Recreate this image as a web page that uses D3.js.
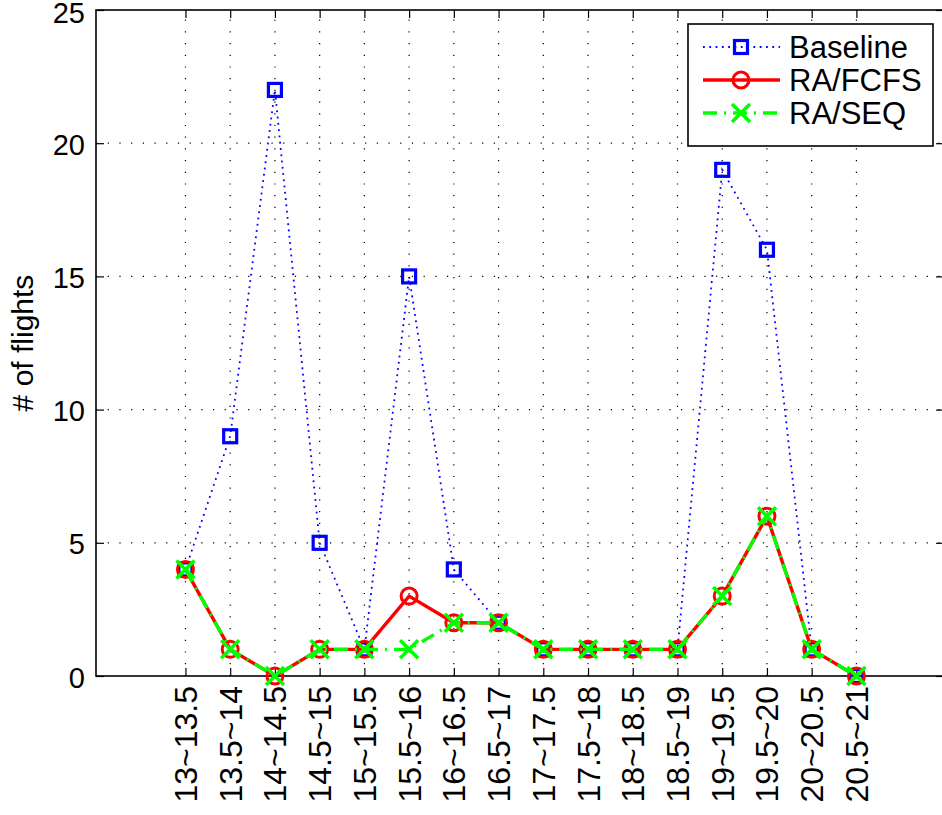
<!DOCTYPE html>
<html>
<head>
<meta charset="utf-8">
<script src="https://cdn.jsdelivr.net/npm/d3@7"></script>
<style>
  html, body { margin: 0; padding: 0; background: #fff; }
  svg { display: block; font-family: "Liberation Sans", Arial, Helvetica, sans-serif; }
</style>
</head>
<body>
<svg id="chart" width="942" height="815"></svg>
<script>
// Half-hour time slots
const categories = ["13~13.5","13.5~14","14~14.5","14.5~15","15~15.5","15.5~16","16~16.5","16.5~17",
  "17~17.5","17.5~18","18~18.5","18.5~19","19~19.5","19.5~20","20~20.5","20.5~21"];
const baseline = [4, 9, 22, 5, 1, 15, 4, 2, 1, 1, 1, 1, 19, 16, 1, 0];
const raFcfs   = [4, 1, 0, 1, 1, 3, 2, 2, 1, 1, 1, 1, 3, 6, 1, 0];
const raSeq    = [4, 1, 0, 1, 1, 1, 2, 2, 1, 1, 1, 1, 3, 6, 1, 0];
const yTicks   = [0, 5, 10, 15, 20, 25];
const yLabel   = "# of flights";

const svg = d3.select("#chart");
const box = { left: 96, top: 10, right: 944, bottom: 676 };
const fs = 31;

// x positions in MATLAB-like units: slot i sits at i+1, axis spans [-1, 18]
const x = d3.scaleLinear().domain([-1, 18]).range([box.left, box.left + 19 * 44.73]);
const y = d3.scaleLinear().domain([0, 25]).range([box.bottom, box.top]);
const xi = i => x(i + 1);

// dotted grid
const grid = svg.append("g").attr("stroke", "#000").attr("stroke-width", 1.2)
  .attr("stroke-dasharray", "1.2,10.5");
categories.forEach((c, i) => {
  grid.append("line").attr("x1", xi(i)).attr("x2", xi(i)).attr("y1", box.bottom).attr("y2", box.top);
});
yTicks.forEach(t => {
  if (t === 0 || t === 25) return;
  grid.append("line").attr("x1", box.left).attr("x2", box.right).attr("y1", y(t)).attr("y2", y(t));
});

// axes via d3 with inward ticks
const tickLen = 8;
const yAxis = d3.axisLeft(y).tickValues(yTicks).tickSize(-tickLen).tickPadding(11).tickFormat(d3.format("d"));
const gy = svg.append("g").attr("transform", `translate(${box.left},0)`).call(yAxis);
gy.select(".domain").remove();
gy.selectAll("line").attr("stroke", "#000").attr("stroke-width", 1.2);
gy.selectAll("text").attr("font-size", 29).attr("fill", "#000")
  .attr("dy", d => d === 25 ? "0.44em" : "0.38em");

const yAxisR = d3.axisRight(y).tickValues(yTicks).tickSize(-tickLen).tickFormat("");
const gyr = svg.append("g").attr("transform", `translate(${box.right},0)`).call(yAxisR);
gyr.select(".domain").remove();
gyr.selectAll("line").attr("stroke", "#000").attr("stroke-width", 1.2);

const xAxis = d3.axisBottom(x).tickValues(categories.map((c, i) => i + 1)).tickSize(-tickLen)
  .tickFormat(v => categories[v - 1]);
const gx = svg.append("g").attr("transform", `translate(0,${box.bottom})`).call(xAxis);
gx.select(".domain").remove();
gx.selectAll("line").attr("stroke", "#000").attr("stroke-width", 1.2);
gx.selectAll("text").attr("font-size", 32).attr("fill", "#000")
  .attr("text-anchor", "end").attr("dy", null).attr("y", null)
  .attr("transform", "translate(0,10) rotate(-90)")
  .attr("dominant-baseline", "central");

const xAxisT = d3.axisTop(x).tickValues(categories.map((c, i) => i + 1)).tickSize(-tickLen).tickFormat("");
const gxt = svg.append("g").attr("transform", `translate(0,${box.top})`).call(xAxisT);
gxt.select(".domain").remove();
gxt.selectAll("line").attr("stroke", "#000").attr("stroke-width", 1.2);

// axes frame
svg.append("rect").attr("x", box.left).attr("y", box.top)
  .attr("width", box.right - box.left).attr("height", box.bottom - box.top)
  .attr("fill", "none").attr("stroke", "#000").attr("stroke-width", 1.6);

// y label
svg.append("text").attr("transform", `translate(33,343) rotate(-90)`)
  .attr("text-anchor", "middle")
  .attr("font-size", 30).attr("fill", "#000").text(yLabel);

// series
const line = d3.line().x((d, i) => xi(i)).y(d => y(d));
const blue = "#0000ff", red = "#ff0000", green = "#00ff00";

function square(g, cx, cy, s) {
  g.append("rect").attr("x", cx - s / 2).attr("y", cy - s / 2).attr("width", s).attr("height", s)
    .attr("fill", "none").attr("stroke", blue).attr("stroke-width", 3.2);
}
function circle(g, cx, cy, r) {
  g.append("circle").attr("cx", cx).attr("cy", cy).attr("r", r)
    .attr("fill", "none").attr("stroke", red).attr("stroke-width", 3);
}
function cross(g, cx, cy, s) {
  g.append("path").attr("d", `M${cx - s},${cy - s}L${cx + s},${cy + s}M${cx - s},${cy + s}L${cx + s},${cy - s}`)
    .attr("fill", "none").attr("stroke", green).attr("stroke-width", 3.5);
}

const gB = svg.append("g");
gB.append("path").datum(baseline).attr("d", line).attr("fill", "none")
  .attr("stroke", blue).attr("stroke-width", 1.8).attr("stroke-dasharray", "1.8,4.5");
baseline.forEach((v, i) => square(gB, xi(i), y(v), 13));

const gF = svg.append("g");
gF.append("path").datum(raFcfs).attr("d", line).attr("fill", "none")
  .attr("stroke", red).attr("stroke-width", 3.4);
raFcfs.forEach((v, i) => circle(gF, xi(i), y(v), 8));

const gS = svg.append("g");
gS.append("path").datum(raSeq).attr("d", line).attr("fill", "none")
  .attr("stroke", green).attr("stroke-width", 3.4).attr("stroke-dasharray", "14,7,2,7");
raSeq.forEach((v, i) => cross(gS, xi(i), y(v), 9));

// legend
const lg = svg.append("g");
lg.append("rect").attr("x", 688).attr("y", 24).attr("width", 245).attr("height", 122)
  .attr("fill", "#fff").attr("stroke", "#000").attr("stroke-width", 1.6);
const entries = [
  { name: "Baseline", color: blue, width: 1.8, dash: "1.8,4.5", mark: square, size: 13 },
  { name: "RA/FCFS", color: red, width: 3.4, dash: null, mark: circle, size: 8 },
  { name: "RA/SEQ", color: green, width: 3.4, dash: "14,7,2,7", mark: cross, size: 9 }
];
entries.forEach((e, k) => {
  const cy = 47 + k * 33;
  lg.append("line").attr("x1", 703).attr("x2", 780).attr("y1", cy).attr("y2", cy)
    .attr("stroke", e.color).attr("stroke-width", e.width).attr("stroke-dasharray", e.dash);
  e.mark(lg, 741, cy, e.size);
  lg.append("text").attr("x", 789).attr("y", cy).attr("dominant-baseline", "central")
    .attr("font-size", fs).attr("fill", "#000").text(e.name);
});
</script>
</body>
</html>
